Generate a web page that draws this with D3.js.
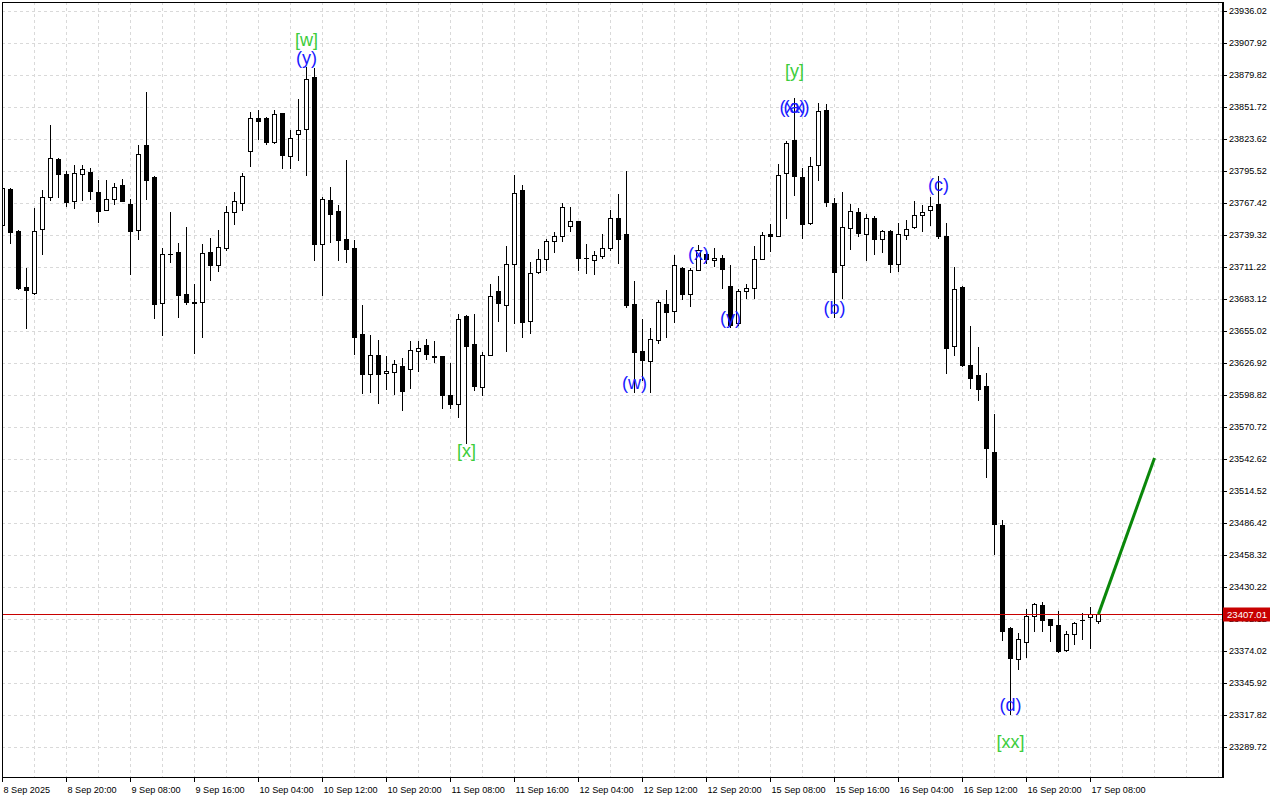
<!DOCTYPE html>
<html><head><meta charset="utf-8">
<script src="https://cdn.jsdelivr.net/npm/d3@7"></script>
<style>
html,body{margin:0;padding:0;background:#fff;}
svg{display:block;}
</style></head>
<body>
<svg id="chart" width="1280" height="800"></svg>
<script>
// ---- data (H1 candles, bar index 0..137) ----
const opens = [23748.1,23780.3,23743.4,23694.2,23688.7,23744.9,23773.0,23806.6,23793.5,23769.5,
23793.2,23794.4,23777.4,23761.6,23771.5,23783.5,23767.1,23744.0,23818.1,23790.0,
23679.9,23723.2,23724.7,23687.8,23680.5,23680.8,23724.7,23713.3,23728.2,23759.8,
23767.7,23813.4,23842.4,23841.8,23821.3,23846.2,23809.0,23828.3,23832.8,23878.4,
23731.7,23769.8,23760.4,23736.4,23727.9,23653.0,23617.8,23633.7,23618.1,23619.6,
23624.9,23622.2,23637.5,23642.7,23633.5,23633.1,23599.4,23591.5,23668.2,23643.6,
23605.6,23634.5,23690.1,23678.4,23714.4,23779.4,23664.4,23707.4,23718.8,23734.6,
23739.0,23747.8,23751.6,23719.7,23717.7,23721.2,23728.2,23754.8,23740.8,23679.3,
23638.0,23628.7,23647.4,23679.0,23672.9,23710.6,23687.8,23708.9,23722.9,23717.7,
23719.4,23694.8,23662.3,23690.4,23692.8,23718.5,23740.5,23738.7,23793.8,23822.5,
23790.0,23749.9,23801.1,23849.4,23767.7,23713.3,23745.8,23759.8,23740.5,23754.5,
23736.4,23743.1,23714.2,23739.5,23746.5,23757.3,23761.8,23767.1,23738.9,23642.1,
23694.2,23625.6,23616.9,23606.5,23549.3,23485.1,23394.7,23367.1,23381.9,23405.1,
23414.9,23402.1,23397.4,23374.9,23389.0,23401.7,23403.8,23400.4];
const highs = [23784.0,23780.9,23743.6,23710.1,23763.6,23779.4,23836.5,23807.2,23796.1,23801.4,
23801.4,23798.5,23788.2,23788.2,23785.3,23789.1,23771.5,23818.4,23865.2,23791.4,
23728.2,23759.8,23732.6,23746.1,23696.6,23732.0,23737.3,23744.3,23765.4,23777.4,
23794.1,23847.6,23849.4,23843.2,23849.4,23846.5,23831.8,23858.5,23886.8,23886.3,
23772.7,23781.5,23765.7,23805.2,23735.5,23677.9,23652.1,23647.1,23633.1,23629.6,
23631.3,23646.8,23646.2,23648.0,23646.2,23633.5,23627.2,23670.0,23669.0,23670.0,
23636.6,23696.3,23703.3,23729.7,23792.0,23783.8,23715.6,23727.0,23736.1,23742.3,
23767.4,23763.9,23752.0,23731.4,23725.3,23740.2,23761.3,23775.3,23795.5,23698.9,
23665.3,23658.2,23682.2,23691.6,23721.5,23711.0,23710.3,23731.1,23723.5,23728.2,
23721.5,23713.3,23692.2,23696.9,23730.0,23742.3,23749.3,23802.0,23821.9,23860.0,
23798.2,23808.1,23855.5,23854.7,23772.1,23777.1,23767.1,23763.6,23757.8,23756.6,
23744.3,23743.5,23749.6,23752.7,23769.5,23765.5,23772.9,23791.7,23749.7,23711.7,
23694.5,23659.2,23641.4,23618.6,23582.3,23489.2,23395.0,23389.7,23411.5,23416.6,
23417.6,23402.5,23409.2,23391.7,23400.1,23407.5,23412.5,23407.5];
const lows = [23742.0,23732.6,23692.5,23658.0,23688.0,23722.6,23770.6,23772.7,23764.8,23763.0,
23770.1,23771.2,23750.7,23761.5,23766.8,23769.0,23705.4,23735.8,23771.2,23666.4,
23651.5,23715.6,23667.3,23679.3,23636.0,23650.0,23699.8,23707.7,23726.4,23749.0,
23761.3,23799.9,23823.6,23819.5,23820.4,23798.2,23798.2,23805.2,23792.0,23717.7,
23686.6,23733.5,23717.7,23715.9,23635.4,23600.9,23601.8,23592.1,23604.1,23600.0,
23585.9,23605.3,23620.2,23630.7,23628.4,23587.7,23587.4,23579.8,23557.0,23603.8,
23598.8,23633.7,23663.8,23637.5,23661.8,23650.0,23653.6,23705.7,23708.9,23724.7,
23734.3,23743.1,23708.9,23706.2,23705.4,23719.7,23726.7,23715.0,23676.4,23601.5,
23612.6,23601.5,23644.8,23649.8,23663.2,23683.4,23677.0,23708.5,23715.0,23712.1,
23692.8,23658.8,23660.9,23684.6,23684.0,23718.0,23725.3,23738.5,23754.3,23775.0,
23736.7,23749.5,23787.6,23764.8,23667.6,23684.3,23727.0,23738.4,23717.4,23722.9,
23724.4,23707.1,23707.7,23735.9,23745.3,23743.3,23748.0,23737.2,23618.2,23633.7,
23624.3,23605.5,23595.0,23526.8,23459.2,23383.6,23319.1,23358.1,23368.8,23391.7,
23391.7,23382.9,23373.5,23373.9,23380.3,23384.6,23376.6,23399.1];
const closes = [23780.9,23742.0,23693.1,23691.3,23743.4,23773.0,23807.2,23793.2,23768.3,23794.1,
23797.6,23778.0,23760.4,23771.5,23781.8,23769.2,23742.8,23810.7,23787.9,23678.7,
23722.9,23722.6,23686.9,23680.8,23680.2,23723.8,23713.0,23729.1,23759.8,23769.5,
23791.4,23842.4,23839.7,23821.0,23845.9,23809.9,23824.8,23831.5,23876.7,23731.7,
23771.5,23757.5,23735.2,23727.3,23650.0,23617.6,23634.5,23617.6,23620.5,23625.8,
23602.9,23638.9,23640.7,23635.1,23632.8,23599.1,23591.5,23666.1,23642.1,23607.0,
23633.7,23685.8,23679.9,23714.4,23776.8,23663.2,23706.5,23718.0,23734.1,23739.0,
23764.5,23751.6,23719.4,23719.1,23721.5,23728.5,23754.8,23736.4,23677.9,23636.6,
23629.6,23648.6,23680.8,23672.0,23713.3,23687.8,23708.9,23726.2,23718.0,23719.4,
23709.5,23660.9,23690.7,23692.8,23718.5,23739.6,23738.7,23792.3,23820.7,23791.1,
23749.0,23800.2,23848.5,23768.3,23706.8,23746.6,23760.7,23741.4,23754.5,23735.8,
23743.1,23714.2,23740.5,23744.9,23757.1,23759.8,23765.1,23738.2,23640.1,23692.5,
23625.3,23613.9,23604.1,23552.7,23485.5,23391.7,23367.8,23385.0,23405.1,23415.6,
23401.1,23396.7,23373.9,23389.0,23398.7,23401.2,23407.1,23407.01];

const yTickValues = [23936.02,23907.92,23879.82,23851.72,23823.62,23795.52,23767.42,23739.32,
23711.22,23683.12,23655.02,23626.92,23598.82,23570.72,23542.62,23514.52,23486.42,23458.32,
23430.22,23402.12,23374.02,23345.92,23317.82,23289.72];
const xTickBars = [0,8,16,24,32,40,48,56,64,72,80,88,96,104,112,120,128,136];
const xTickLabels = ["8 Sep 2025","8 Sep 20:00","9 Sep 08:00","9 Sep 16:00","10 Sep 04:00",
"10 Sep 12:00","10 Sep 20:00","11 Sep 08:00","11 Sep 16:00","12 Sep 04:00","12 Sep 12:00",
"12 Sep 20:00","15 Sep 08:00","15 Sep 16:00","16 Sep 04:00","16 Sep 12:00","16 Sep 20:00","17 Sep 08:00"];

const waveTexts  = ["[w]","(y)","[x]","(w)","(x)","(y)","[y]","(xx)","(a)","(b)","(c)","(d)","[xx]"];
const waveBars   = [38,38,58,79,87,91,99,99,99,104,117,126,126];
const wavePrices = [23911.2,23895.4,23550.3,23610.0,23723.3,23667.1,23884.0,23852.3,23852.3,23675.8,23783.8,23327.2,23294.7];

const lastPrice = 23407.01;
const projectionBars = [137,144];
const projectionPrices = [23407.01,23544.1];

// ---- layout ----
const L = 2, R = 1222, T = 2, B = 777;
const svg = d3.select("#chart");
const x = d3.scaleLinear().domain([-0.0625, 152.4375]).range([L, R]);
const y = d3.scaleLinear().domain([23289.72, 23936.02]).range([747.7, 11.7]);
const px = v => Math.floor(v) + 0.5;

svg.append("rect").attr("width",1280).attr("height",800).attr("fill","#fff");
svg.append("defs").append("clipPath").attr("id","plot")
  .append("rect").attr("x",L).attr("y",T).attr("width",R-L).attr("height",B-T);

// grid
const grid = svg.append("g").attr("clip-path","url(#plot)")
  .attr("stroke","#d9d9d9").attr("stroke-dasharray","3,3").attr("stroke-width",1);
grid.selectAll("line.h").data(yTickValues).join("line")
  .attr("x1",L).attr("x2",R).attr("y1",d=>px(y(d))).attr("y2",d=>px(y(d)));
grid.selectAll("line.v").data(d3.range(4,153,4)).join("line")
  .attr("x1",d=>px(x(d))).attr("x2",d=>px(x(d))).attr("y1",T).attr("y2",B);

// candles
const plot = svg.append("g").attr("clip-path","url(#plot)");
const idx = d3.range(opens.length);
plot.selectAll("line.wick").data(idx).join("line")
  .attr("x1",i=>px(x(i))).attr("x2",i=>px(x(i)))
  .attr("y1",i=>Math.floor(y(highs[i]))).attr("y2",i=>Math.floor(y(lows[i]))+1)
  .attr("stroke","#000").attr("stroke-width",1);
plot.selectAll("rect.body").data(idx).join("rect")
  .each(function(i){
    const cx = px(x(i));
    const top = Math.floor(y(Math.max(opens[i],closes[i])));
    const bot = Math.floor(y(Math.min(opens[i],closes[i])));
    const s = d3.select(this);
    if (closes[i] >= opens[i]) {
      s.attr("x",cx-2).attr("y",top+0.5).attr("width",4).attr("height",Math.max(0,bot-top))
       .attr("fill","#fff").attr("stroke","#000").attr("stroke-width",1);
    } else {
      s.attr("x",cx-2.5).attr("y",top).attr("width",5).attr("height",Math.max(1,bot-top+1))
       .attr("fill","#000");
    }
  });

// current price line
plot.append("line").attr("x1",L).attr("x2",R)
  .attr("y1",px(y(lastPrice))).attr("y2",px(y(lastPrice)))
  .attr("stroke","#c80000").attr("stroke-width",1);

// projection
plot.append("path")
  .datum(d3.zip(projectionBars, projectionPrices))
  .attr("d", d3.line().x(d=>x(d[0])).y(d=>y(d[1])))
  .attr("stroke","#0a870a").attr("stroke-width",3).attr("fill","none");

// wave labels
plot.selectAll("text.wave").data(d3.range(waveTexts.length)).join("text")
  .attr("x",i=>x(waveBars[i])).attr("y",i=>y(wavePrices[i]))
  .attr("text-anchor","middle").attr("dominant-baseline","central")
  .attr("font-family","'Liberation Sans', Arial, sans-serif").attr("font-size",18)
  .attr("fill",i=>waveTexts[i][0]==="[" ? "#3ccd3c" : "#1a1aff")
  .text(i=>waveTexts[i]);

// frame
svg.append("line").attr("x1",L+0.5).attr("x2",L+0.5).attr("y1",T).attr("y2",B+1).attr("stroke","#000");
svg.append("line").attr("x1",L).attr("x2",R).attr("y1",T+0.5).attr("y2",T+0.5).attr("stroke","#000");
svg.append("line").attr("x1",L).attr("x2",R+1).attr("y1",B+0.5).attr("y2",B+0.5).attr("stroke","#000");
svg.append("line").attr("x1",R+1).attr("x2",R+1).attr("y1",T).attr("y2",B+1).attr("stroke","#000").attr("stroke-width",2);

// y axis
const yAxis = d3.axisRight(y).tickValues(yTickValues).tickSize(3).tickPadding(2)
  .tickFormat(d=>d3.format(".2f")(d));
const gy = svg.append("g").attr("transform",`translate(${R+2},0)`).call(yAxis);
gy.select(".domain").remove();
gy.selectAll(".tick").attr("transform",d=>`translate(0,${px(y(d))})`);
gy.selectAll("text").attr("font-family","'Liberation Sans', Arial, sans-serif").attr("font-size",9.1).attr("fill","#000");
gy.selectAll("line").attr("stroke","#000");

// x axis
const xAxis = d3.axisBottom(x).tickValues(xTickBars).tickSize(4)
  .tickFormat((d,i)=>xTickLabels[i]);
const gx = svg.append("g").attr("transform",`translate(0,${B+1})`).call(xAxis);
gx.select(".domain").remove();
gx.selectAll(".tick").attr("transform",d=>`translate(${px(x(d))},0)`);
gx.selectAll("text").attr("text-anchor","start").attr("x",1).attr("dy","0.9em")
  .attr("font-family","'Liberation Sans', Arial, sans-serif").attr("font-size",9.1).attr("fill","#000");
gx.selectAll("line").attr("stroke","#000");

// price label
const pl = svg.append("g").attr("transform",`translate(${R+1},${px(y(lastPrice))})`);
pl.append("rect").attr("x",0).attr("y",-7).attr("width",47).attr("height",14).attr("fill","#c80000");
pl.append("text").attr("x",4).attr("y",0).attr("dominant-baseline","central")
  .attr("font-family","'Liberation Sans', Arial, sans-serif").attr("font-size",9.6)
  .attr("fill","#fff").text(d3.format(".2f")(lastPrice));
</script>
</body></html>
